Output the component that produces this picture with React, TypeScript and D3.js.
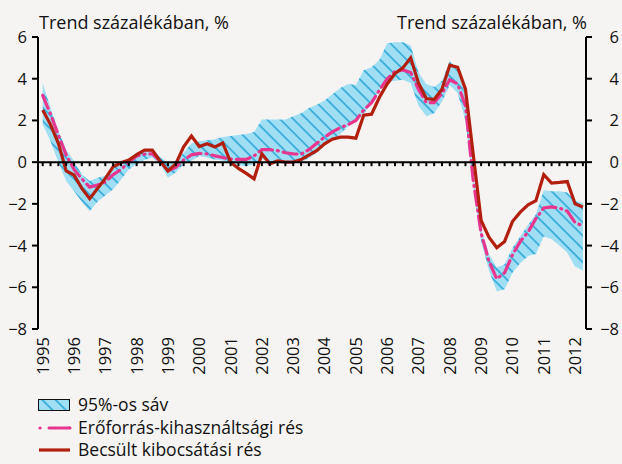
import React from "react";
import * as d3 from "d3";

const years = d3.range(1995, 2013).map(String);
const quarters = d3.range(70).map(i => `${1995 + Math.floor(i / 4)}Q${(i % 4) + 1}`);

const bandUpper = [3.8, 2.6, 1.5, 0.6, 0.05, -0.6, -0.9, -0.75, -0.65, -0.3, -0.05, 0.15, 0.45, 0.6, 0.6, 0.25, -0.05, 0.0, 0.45, 0.9,
  1.0, 1.05, 1.1, 1.2, 1.25, 1.3, 1.35, 1.45, 2.05, 2.05, 2.05, 2.05, 2.2, 2.35, 2.6, 2.75, 2.95, 3.25, 3.55, 3.75,
  3.7, 4.4, 4.55, 4.9, 5.7, 5.75, 5.75, 5.6, 4.3, 3.75, 3.6, 3.9, 4.85, 4.4, 3.2, -0.6, -3.2, -4.4, -5.05, -4.9,
  -4.1, -3.55, -3.0, -2.5, -1.35, -1.4, -1.4, -1.45, -1.85, -1.95];
const bandLower = [1.8, 1.0, 0.0, -0.9, -1.4, -1.9, -2.35, -1.9, -1.6, -1.3, -0.85, -0.35, -0.1, 0.1, 0.22, -0.1, -0.75, -0.5, -0.1, 0.05,
  0.3, 0.22, 0.13, 0.08, -0.1, -0.15, -0.2, -0.1, 0.15, 0.05, 0.0, 0.0, 0.0, 0.0, 0.2, 0.45, 0.8, 1.05, 1.35, 1.7,
  2.0, 2.3, 2.85, 3.45, 3.85, 3.9, 3.95, 3.8, 2.7, 2.2, 2.35, 2.9, 3.7, 3.3, 2.0, -1.2, -3.8, -5.2, -6.2, -6.1,
  -5.3, -4.85, -4.5, -4.4, -3.55, -3.7, -4.0, -4.35, -5.0, -5.2];
const resourceGap = [3.2, 2.3, 1.3, 0.35, -0.35, -0.8, -1.2, -1.1, -0.95, -0.6, -0.35, 0.0, 0.3, 0.38, 0.4, 0.05, -0.42, -0.25, 0.1, 0.35,
  0.42, 0.4, 0.3, 0.22, 0.15, 0.13, 0.13, 0.3, 0.6, 0.6, 0.55, 0.45, 0.4, 0.38, 0.6, 0.9, 1.2, 1.45, 1.65, 1.8,
  2.0, 2.5, 2.85, 3.45, 4.0, 4.35, 4.42, 4.3, 3.5, 2.85, 2.85, 3.3, 3.95, 3.75, 2.7, -0.9, -3.4, -4.75, -5.6, -5.3,
  -4.45, -3.8, -3.35, -2.7, -2.2, -2.15, -2.2, -2.35, -2.9, -3.05];
const outputGap = [2.5, 1.8, 0.9, -0.42, -0.62, -1.26, -1.75, -1.26, -0.78, -0.22, -0.03, 0.1, 0.36, 0.58, 0.58, 0.05, -0.42, -0.08, 0.73, 1.25,
  0.75, 0.88, 0.73, 0.92, 0.0, -0.3, -0.54, -0.8, 0.4, -0.08, 0.06, 0.0, 0.0, 0.12, 0.34, 0.55, 0.88, 1.1, 1.2, 1.2,
  1.15, 2.25, 2.3, 3.1, 3.75, 4.25, 4.52, 5.0, 3.8, 3.05, 3.0, 3.5, 4.65, 4.55, 3.5, 0.35, -2.8, -3.6, -4.1, -3.8,
  -2.85, -2.4, -2.05, -1.85, -0.6, -1.0, -0.97, -0.93, -2.0, -2.15];
const yTicks = [6, 4, 2, 0, -2, -4, -6, -8];
const legendLabels = ["95%-os sáv", "Erőforrás-kihasználtsági rés", "Becsült kibocsátási rés"];
const axisTitle = "Trend százalékában, %";

const W = 622, H = 464;
const left = 38, right = 586;
const font = "'Open Sans', sans-serif";
const fs = 16.5;      // tick numbers
const fsText = 18;    // titles
const fsLegend = 17.5;
const bandFill = "#a0dff3";
const hatchColor = "#1d9fd5";
const pinkColor = "#e8368e";
const redColor = "#b31f0e";

const fmt = (v: number) => (v < 0 ? "\u2212" + Math.abs(v) : String(v));

export default function App() {
  const x = d3.scalePoint<string>().domain(quarters).range([42.7, 582.9]);
  const y = d3.scaleLinear().domain([-8, 6]).range([329, 37]);
  const xi = (i: number) => x(quarters[i]) as number;

  const area = d3.area<number>()
    .x((_, i) => xi(i))
    .y0((_, i) => y(bandLower[i]))
    .y1(d => y(d));
  const line = d3.line<number>().x((_, i) => xi(i)).y(d => y(d));

  return (
    <svg width={W} height={H} style={{ position: "absolute", left: 0, top: 0, background: "#f5f4f2" }}>
      <defs>
        <pattern id="hatch" patternUnits="userSpaceOnUse" width={9.4} height={9.4} patternTransform="rotate(-45)">
          <rect width={9.4} height={9.4} fill={bandFill} />
          <line x1={1} y1={0} x2={1} y2={9.4} stroke={hatchColor} strokeWidth={1.4} />
        </pattern>
      </defs>
      <rect width={W} height={H} fill="#f5f4f2" />

      <text x={39} y={29} fontFamily={font} fontSize={fsText} fill="#111">{axisTitle}</text>
      <text x={587} y={29} fontFamily={font} fontSize={fsText} fill="#111" textAnchor="end">{axisTitle}</text>

      <path d={area(bandUpper) || ""} fill="url(#hatch)" />
      <path d={line(resourceGap) || ""} fill="none" stroke={pinkColor} strokeWidth={3.2}
        strokeDasharray="14 5 1 5" strokeLinecap="round" />
      <path d={line(outputGap) || ""} fill="none" stroke={redColor} strokeWidth={3.2} strokeLinejoin="miter" />

      {/* axes */}
      <line x1={left} x2={left} y1={y(6)} y2={y(-8)} stroke="#000" strokeWidth={2} />
      <line x1={right} x2={right} y1={y(6)} y2={y(-8)} stroke="#000" strokeWidth={2} />
      <line x1={left} x2={right} y1={y(0)} y2={y(0)} stroke="#000" strokeWidth={2} />
      {quarters.map((q, i) => (
        <line key={q} x1={xi(i)} x2={xi(i)} y1={y(0)} y2={y(0) + 4} stroke="#000" strokeWidth={2} />
      ))}
      {yTicks.map(t => (
        <g key={t}>
          <line x1={left - 6} x2={left} y1={y(t)} y2={y(t)} stroke="#000" strokeWidth={2} />
          <line x1={right} x2={right + 6} y1={y(t)} y2={y(t)} stroke="#000" strokeWidth={2} />
          <text x={27} y={y(t)} dy="0.36em" textAnchor="end" fontFamily={font} fontSize={fs} fill="#111">{fmt(t)}</text>
          <text x={619} y={y(t)} dy="0.36em" textAnchor="end" fontFamily={font} fontSize={fs} fill="#111">{fmt(t)}</text>
        </g>
      ))}
      {years.map((yr, k) => (
        <text key={yr} transform={`translate(${xi(k * 4)},337) rotate(-90)`} textAnchor="end" dy="0.36em"
          fontFamily={font} fontSize={fs} fill="#111">{yr}</text>
      ))}

      {/* legend */}
      <rect x={38.5} y={399.5} width={31} height={11} fill="url(#hatch)" stroke="#111" strokeWidth={1} />
      <text x={78} y={410.5} fontFamily={font} fontSize={fsLegend} fill="#111">{legendLabels[0]}</text>
      <line x1={40} x2={70} y1={428} y2={428} stroke={pinkColor} strokeWidth={3.2} strokeDasharray="0.1 9 20" strokeLinecap="round" />
      <text x={78} y={433.5} fontFamily={font} fontSize={fsLegend} fill="#111">{legendLabels[1]}</text>
      <line x1={39} x2={70} y1={450} y2={450} stroke={redColor} strokeWidth={3.2} />
      <text x={78} y={455.5} fontFamily={font} fontSize={fsLegend} fill="#111">{legendLabels[2]}</text>
    </svg>
  );
}
